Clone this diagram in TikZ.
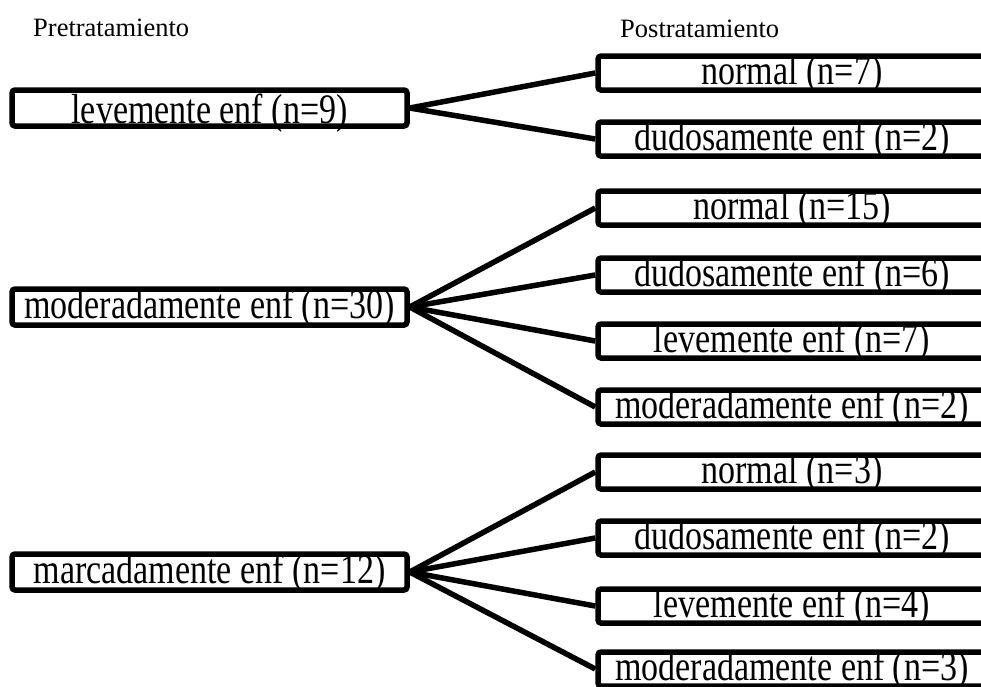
\documentclass[tikz,border=0pt]{standalone}
\usepackage{fontspec}
\setmainfont{Liberation Serif}
% condensed serif used inside the boxes
\newfontfamily\boxfont{Liberation Serif}[FakeStretch=0.81]
\begin{document}
\begin{tikzpicture}[x=1pt,y=-1pt,
  box/.style={draw, line width=5.5pt, rounded corners=3pt,
    inner xsep=0pt, inner ysep=0pt, text height=27pt, text depth=5pt,
    font=\boxfont\fontsize{42}{45}\selectfont},
  lbox/.style={box, minimum width=395pt, minimum height=36pt},
  rbox/.style={box, minimum width=388pt, minimum height=34pt},
  link/.style={line width=5.5pt},
  head/.style={anchor=base west, inner sep=0pt,
    font=\fontsize{26.5}{30}\selectfont}]
\useasboundingbox (0,0) rectangle (981,686);
\clip (0,0) rectangle (981,686);

% column headings
\node[head] (hpre)  at (33,36)  {Pretratamiento};
\node[head] (hpost) at (620,37) {Postratamiento};

% pre-treatment groups
\node[lbox, text height=30pt, text depth=-4pt] (l1) at (209.5,108) {levemente enf (n=9)};
\node[lbox] (l2) at (209.5,307) {moderadamente enf (n=30)};
\node[lbox] (l3) at (209.5,572) {marcadamente enf (n=12)};

% post-treatment outcomes
\node[rbox] (r1)  at (792,73)  {normal (n=7)};
\node[rbox] (r2)  at (792,139) {dudosamente enf (n=2)};
\node[rbox] (r3)  at (792,208) {normal (n=15)};
\node[rbox] (r4)  at (792,275) {dudosamente enf (n=6)};
\node[rbox] (r5)  at (792,341) {levemente enf (n=7)};
\node[rbox] (r6)  at (792,407) {moderadamente enf (n=2)};
\node[rbox] (r7)  at (792,472) {normal (n=3)};
\node[rbox] (r8)  at (792,538) {dudosamente enf (n=2)};
\node[rbox] (r9)  at (792,606) {levemente enf (n=4)};
\node[rbox] (r10) at (792,669) {moderadamente enf (n=3)};

% connectors
\foreach \t in {r1,r2} \draw[link] (l1.east) -- (\t.west);
\foreach \t in {r3,r4,r5,r6} \draw[link] (l2.east) -- (\t.west);
\foreach \t in {r7,r8,r9,r10} \draw[link] (l3.east) -- (\t.west);
\end{tikzpicture}
\end{document}
